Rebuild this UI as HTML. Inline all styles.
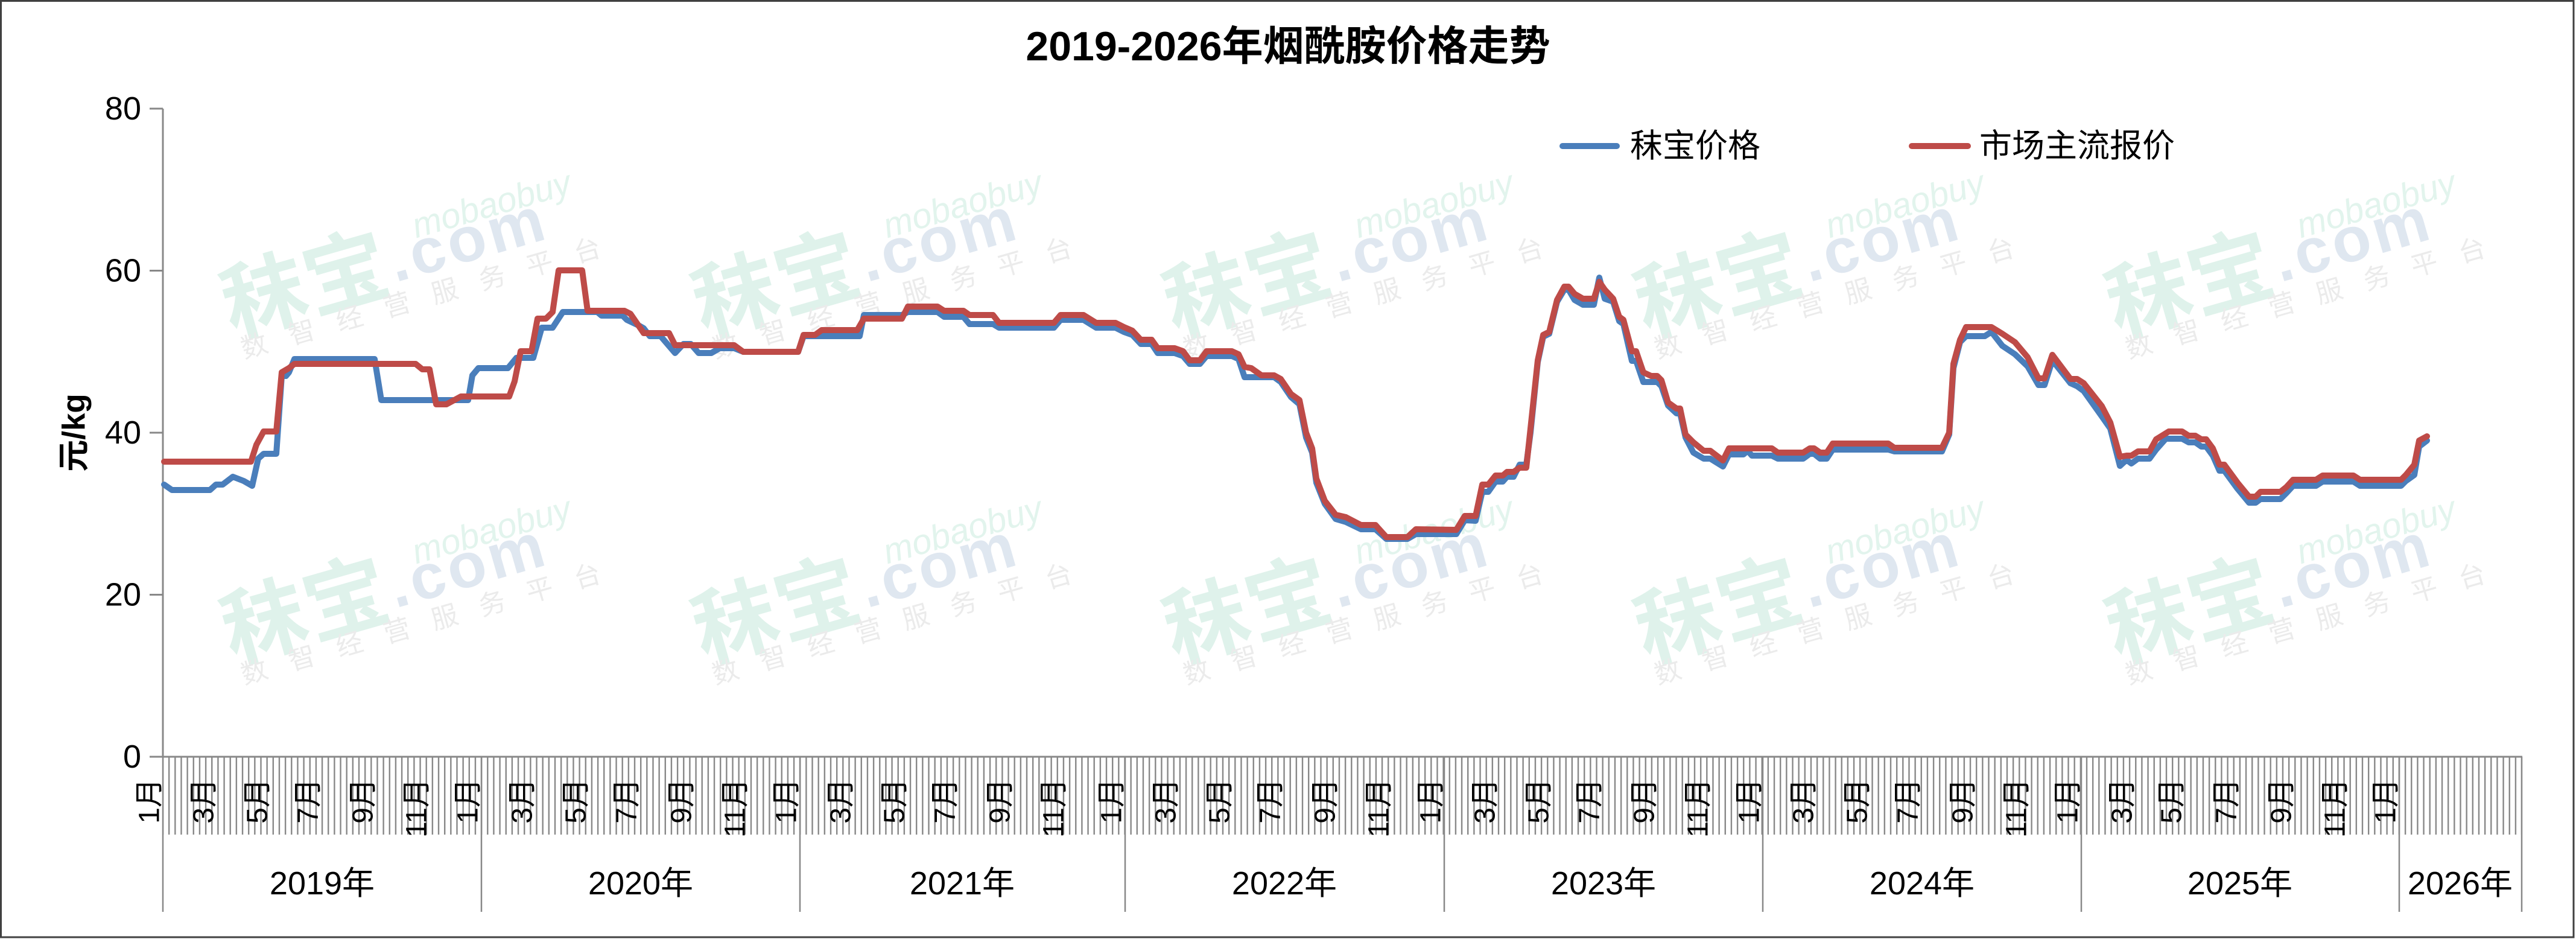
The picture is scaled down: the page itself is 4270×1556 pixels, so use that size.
<!DOCTYPE html>
<html><head><meta charset="utf-8"><style>
html,body{margin:0;padding:0;background:#fff;}
body{width:4270px;height:1556px;overflow:hidden;}
svg{display:block;font-family:"Liberation Sans","Noto Sans CJK SC",sans-serif;}
</style></head><body>
<svg width="4270" height="1556" viewBox="0 0 4270 1556" xmlns="http://www.w3.org/2000/svg">
<defs>
<pattern id="tk" patternUnits="userSpaceOnUse" x="268.8" y="0" width="10.156" height="1556">
<rect x="0" y="0" width="2.4" height="1556" fill="#888"/>
</pattern>
</defs>
<rect x="1.5" y="1.5" width="4264.5" height="1551.5" fill="#fff" stroke="#404040" stroke-width="3"/>

<!-- watermarks -->
<g font-family="Liberation Sans,Noto Sans CJK SC,sans-serif">
<g transform="translate(385,558) rotate(-16)"><text x="0" y="0" font-size="140" font-weight="bold" fill="#dff2eb">秣宝</text><text x="285" y="-12" font-size="105" font-weight="bold" fill="#dfe7f0" letter-spacing="6">.com</text><text x="338" y="-73" font-size="58" font-style="italic" fill="#e2f4ed">mobaobuy</text><text x="9" y="40" font-size="44" fill="#ebebeb" letter-spacing="38">数智经营服务平台</text></g>
<g transform="translate(1166,558) rotate(-16)"><text x="0" y="0" font-size="140" font-weight="bold" fill="#dff2eb">秣宝</text><text x="285" y="-12" font-size="105" font-weight="bold" fill="#dfe7f0" letter-spacing="6">.com</text><text x="338" y="-73" font-size="58" font-style="italic" fill="#e2f4ed">mobaobuy</text><text x="9" y="40" font-size="44" fill="#ebebeb" letter-spacing="38">数智经营服务平台</text></g>
<g transform="translate(1947,558) rotate(-16)"><text x="0" y="0" font-size="140" font-weight="bold" fill="#dff2eb">秣宝</text><text x="285" y="-12" font-size="105" font-weight="bold" fill="#dfe7f0" letter-spacing="6">.com</text><text x="338" y="-73" font-size="58" font-style="italic" fill="#e2f4ed">mobaobuy</text><text x="9" y="40" font-size="44" fill="#ebebeb" letter-spacing="38">数智经营服务平台</text></g>
<g transform="translate(2728,558) rotate(-16)"><text x="0" y="0" font-size="140" font-weight="bold" fill="#dff2eb">秣宝</text><text x="285" y="-12" font-size="105" font-weight="bold" fill="#dfe7f0" letter-spacing="6">.com</text><text x="338" y="-73" font-size="58" font-style="italic" fill="#e2f4ed">mobaobuy</text><text x="9" y="40" font-size="44" fill="#ebebeb" letter-spacing="38">数智经营服务平台</text></g>
<g transform="translate(3509,558) rotate(-16)"><text x="0" y="0" font-size="140" font-weight="bold" fill="#dff2eb">秣宝</text><text x="285" y="-12" font-size="105" font-weight="bold" fill="#dfe7f0" letter-spacing="6">.com</text><text x="338" y="-73" font-size="58" font-style="italic" fill="#e2f4ed">mobaobuy</text><text x="9" y="40" font-size="44" fill="#ebebeb" letter-spacing="38">数智经营服务平台</text></g>
<g transform="translate(385,1098) rotate(-16)"><text x="0" y="0" font-size="140" font-weight="bold" fill="#dff2eb">秣宝</text><text x="285" y="-12" font-size="105" font-weight="bold" fill="#dfe7f0" letter-spacing="6">.com</text><text x="338" y="-73" font-size="58" font-style="italic" fill="#e2f4ed">mobaobuy</text><text x="9" y="40" font-size="44" fill="#ebebeb" letter-spacing="38">数智经营服务平台</text></g>
<g transform="translate(1166,1098) rotate(-16)"><text x="0" y="0" font-size="140" font-weight="bold" fill="#dff2eb">秣宝</text><text x="285" y="-12" font-size="105" font-weight="bold" fill="#dfe7f0" letter-spacing="6">.com</text><text x="338" y="-73" font-size="58" font-style="italic" fill="#e2f4ed">mobaobuy</text><text x="9" y="40" font-size="44" fill="#ebebeb" letter-spacing="38">数智经营服务平台</text></g>
<g transform="translate(1947,1098) rotate(-16)"><text x="0" y="0" font-size="140" font-weight="bold" fill="#dff2eb">秣宝</text><text x="285" y="-12" font-size="105" font-weight="bold" fill="#dfe7f0" letter-spacing="6">.com</text><text x="338" y="-73" font-size="58" font-style="italic" fill="#e2f4ed">mobaobuy</text><text x="9" y="40" font-size="44" fill="#ebebeb" letter-spacing="38">数智经营服务平台</text></g>
<g transform="translate(2728,1098) rotate(-16)"><text x="0" y="0" font-size="140" font-weight="bold" fill="#dff2eb">秣宝</text><text x="285" y="-12" font-size="105" font-weight="bold" fill="#dfe7f0" letter-spacing="6">.com</text><text x="338" y="-73" font-size="58" font-style="italic" fill="#e2f4ed">mobaobuy</text><text x="9" y="40" font-size="44" fill="#ebebeb" letter-spacing="38">数智经营服务平台</text></g>
<g transform="translate(3509,1098) rotate(-16)"><text x="0" y="0" font-size="140" font-weight="bold" fill="#dff2eb">秣宝</text><text x="285" y="-12" font-size="105" font-weight="bold" fill="#dfe7f0" letter-spacing="6">.com</text><text x="338" y="-73" font-size="58" font-style="italic" fill="#e2f4ed">mobaobuy</text><text x="9" y="40" font-size="44" fill="#ebebeb" letter-spacing="38">数智经营服务平台</text></g>
</g>

<!-- title -->
<text x="2135" y="77" text-anchor="middle" dominant-baseline="central" font-size="68" font-weight="bold" fill="#000">2019-2026年烟酰胺价格走势</text>

<!-- legend -->
<line x1="2590" y1="242" x2="2680" y2="242" stroke="#4A7EBB" stroke-width="10" stroke-linecap="round"/>
<text x="2702" y="242" dominant-baseline="central" font-size="54" fill="#000">秣宝价格</text>
<line x1="3169" y1="242" x2="3262" y2="242" stroke="#BE4B48" stroke-width="10" stroke-linecap="round"/>
<text x="3281" y="242" dominant-baseline="central" font-size="54" fill="#000">市场主流报价</text>

<!-- y axis label -->
<text transform="translate(123,717) rotate(-90)" text-anchor="middle" dominant-baseline="central" font-size="53" font-weight="bold" fill="#000">元/kg</text>

<!-- y tick labels -->
<g font-size="54" fill="#000" text-anchor="end" dominant-baseline="central">
<text x="234" y="1254">0</text>
<text x="234" y="985.5">20</text>
<text x="234" y="717">40</text>
<text x="234" y="448.5">60</text>
<text x="234" y="180">80</text>
</g>
<g stroke="#888" stroke-width="3">
<line x1="248" y1="1254" x2="270" y2="1254"/>
<line x1="248" y1="985.5" x2="270" y2="985.5"/>
<line x1="248" y1="717" x2="270" y2="717"/>
<line x1="248" y1="448.5" x2="270" y2="448.5"/>
<line x1="248" y1="180" x2="270" y2="180"/>
</g>

<!-- category ticks -->
<rect x="270" y="1255" width="3911" height="128" fill="url(#tk)"/>
<g stroke="#888" stroke-width="2.5">
<line x1="270" y1="1254" x2="270" y2="1511"/>
<line x1="798" y1="1254" x2="798" y2="1511"/>
<line x1="1326" y1="1254" x2="1326" y2="1511"/>
<line x1="1865" y1="1254" x2="1865" y2="1511"/>
<line x1="2394" y1="1254" x2="2394" y2="1511"/>
<line x1="2922" y1="1254" x2="2922" y2="1511"/>
<line x1="3450" y1="1254" x2="3450" y2="1511"/>
<line x1="3977" y1="1254" x2="3977" y2="1511"/>
<line x1="4180" y1="1254" x2="4180" y2="1511"/>
</g>
<!-- axes -->
<line x1="270" y1="180" x2="270" y2="1255" stroke="#888" stroke-width="3"/>
<line x1="248" y1="1254" x2="4181" y2="1254" stroke="#888" stroke-width="3"/>

<!-- month labels -->
<g font-size="48" fill="#000" text-anchor="end" dominant-baseline="central">
<text transform="translate(248,1290) rotate(-90)">1月</text>
<text transform="translate(338,1290) rotate(-90)">3月</text>
<text transform="translate(427,1290) rotate(-90)">5月</text>
<text transform="translate(511,1290) rotate(-90)">7月</text>
<text transform="translate(602,1290) rotate(-90)">9月</text>
<text transform="translate(691,1290) rotate(-90)">11月</text>
<text transform="translate(776,1290) rotate(-90)">1月</text>
<text transform="translate(866,1290) rotate(-90)">3月</text>
<text transform="translate(955,1290) rotate(-90)">5月</text>
<text transform="translate(1039,1290) rotate(-90)">7月</text>
<text transform="translate(1130,1290) rotate(-90)">9月</text>
<text transform="translate(1219,1290) rotate(-90)">11月</text>
<text transform="translate(1304,1290) rotate(-90)">1月</text>
<text transform="translate(1394,1290) rotate(-90)">3月</text>
<text transform="translate(1483,1290) rotate(-90)">5月</text>
<text transform="translate(1567,1290) rotate(-90)">7月</text>
<text transform="translate(1658,1290) rotate(-90)">9月</text>
<text transform="translate(1747,1290) rotate(-90)">11月</text>
<text transform="translate(1843,1290) rotate(-90)">1月</text>
<text transform="translate(1933,1290) rotate(-90)">3月</text>
<text transform="translate(2022,1290) rotate(-90)">5月</text>
<text transform="translate(2106,1290) rotate(-90)">7月</text>
<text transform="translate(2197,1290) rotate(-90)">9月</text>
<text transform="translate(2286,1290) rotate(-90)">11月</text>
<text transform="translate(2372,1290) rotate(-90)">1月</text>
<text transform="translate(2462,1290) rotate(-90)">3月</text>
<text transform="translate(2551,1290) rotate(-90)">5月</text>
<text transform="translate(2635,1290) rotate(-90)">7月</text>
<text transform="translate(2726,1290) rotate(-90)">9月</text>
<text transform="translate(2815,1290) rotate(-90)">11月</text>
<text transform="translate(2900,1290) rotate(-90)">1月</text>
<text transform="translate(2990,1290) rotate(-90)">3月</text>
<text transform="translate(3079,1290) rotate(-90)">5月</text>
<text transform="translate(3163,1290) rotate(-90)">7月</text>
<text transform="translate(3254,1290) rotate(-90)">9月</text>
<text transform="translate(3343,1290) rotate(-90)">11月</text>
<text transform="translate(3428,1290) rotate(-90)">1月</text>
<text transform="translate(3518,1290) rotate(-90)">3月</text>
<text transform="translate(3600,1290) rotate(-90)">5月</text>
<text transform="translate(3691,1290) rotate(-90)">7月</text>
<text transform="translate(3782,1290) rotate(-90)">9月</text>
<text transform="translate(3871,1290) rotate(-90)">11月</text>
<text transform="translate(3955,1290) rotate(-90)">1月</text>
</g>

<!-- year labels -->
<g font-size="54" fill="#000" text-anchor="middle" dominant-baseline="central">
<text x="534" y="1464">2019年</text>
<text x="1062" y="1464">2020年</text>
<text x="1595" y="1464">2021年</text>
<text x="2129" y="1464">2022年</text>
<text x="2658" y="1464">2023年</text>
<text x="3186" y="1464">2024年</text>
<text x="3713" y="1464">2025年</text>
<text x="4078" y="1464">2026年</text>
</g>

<!-- series -->
<polyline fill="none" stroke="#4A7EBB" stroke-width="10" stroke-linejoin="round" stroke-linecap="round" points="272,803 285,812 348,812 358,803 369,803 386,790 404,797 418,805 428,760 437,752 458,752 467,623 474,623 479,617 488,595 621,595 632,663 776,663 783,622 793,610 842,610 856,593 884,593 898,543 916,543 933,517 990,517 997,523 1032,523 1039,530 1060,540 1067,544 1077,557 1095,557 1119,585 1133,570 1145,570 1158,585 1179,585 1193,577 1217,577 1232,583 1323,583 1332,557 1355,557 1425,557 1432,522 1495,522 1505,517 1554,517 1565,525 1597,525 1607,537 1646,537 1656,543 1747,543 1758,530 1796,530 1817,543 1849,543 1863,550 1877,555 1891,570 1909,570 1919,585 1947,585 1961,590 1972,603 1989,603 2000,590 2042,590 2053,595 2063,625 2112,625 2123,633 2140,658 2154,670 2165,725 2175,750 2182,800 2196,835 2214,860 2231,865 2256,877 2280,877 2298,893 2333,893 2347,885 2414,885 2428,862 2446,863 2457,815 2467,815 2479,798 2491,798 2498,790 2509,790 2519,770 2530,770 2537,717 2549,600 2558,558 2568,553 2581,500 2593,480 2600,480 2610,497 2624,505 2642,505 2651,460 2660,495 2674,500 2684,532 2691,537 2705,598 2712,598 2724,633 2747,633 2754,640 2765,672 2779,685 2785,685 2794,725 2807,750 2824,760 2835,760 2856,773 2866,753 2890,753 2897,747 2904,755 2937,755 2947,760 2989,760 3000,752 3007,752 3017,760 3028,760 3038,745 3130,745 3140,748 3219,748 3231,720 3238,610 3249,567 3259,557 3290,557 3301,550 3319,573 3340,587 3361,607 3379,638 3389,638 3402,597 3432,635 3443,640 3454,648 3484,690 3498,710 3514,772 3525,762 3533,768 3544,760 3563,760 3574,745 3590,727 3617,727 3628,733 3639,733 3649,740 3657,740 3668,755 3679,780 3687,780 3709,810 3728,833 3739,833 3747,827 3780,827 3790,817 3801,805 3839,805 3850,798 3901,798 3912,805 3980,805 3988,797 4002,787 4010,740 4023,730"/>
<polyline fill="none" stroke="#BE4B48" stroke-width="10" stroke-linejoin="round" stroke-linecap="round" points="272,765 416,765 425,737 437,715 458,715 467,617 479,610 488,603 689,603 700,612 712,612 723,670 740,670 764,657 844,657 853,632 863,582 881,582 891,528 905,528 916,517 926,448 965,448 974,515 1035,515 1045,520 1067,552 1109,552 1119,572 1217,572 1232,583 1323,583 1332,555 1351,555 1362,547 1421,547 1432,528 1495,528 1505,508 1554,508 1565,515 1597,515 1607,522 1646,522 1656,535 1747,535 1758,522 1796,522 1817,535 1849,535 1863,542 1877,548 1891,563 1909,563 1919,577 1947,577 1961,582 1972,597 1989,597 2000,582 2042,582 2053,587 2063,608 2074,610 2091,622 2112,622 2123,628 2140,653 2154,663 2165,717 2175,743 2182,793 2196,830 2214,853 2231,857 2256,870 2280,870 2298,890 2333,890 2347,877 2414,878 2428,855 2446,855 2457,803 2467,803 2479,788 2491,788 2498,782 2509,782 2519,775 2530,775 2537,710 2549,597 2558,555 2568,550 2581,497 2593,475 2600,475 2610,487 2624,495 2642,495 2651,467 2660,480 2674,495 2684,525 2691,530 2705,582 2712,582 2724,617 2737,623 2747,623 2754,630 2765,667 2779,677 2785,677 2794,720 2807,733 2824,747 2835,747 2856,763 2866,743 2937,743 2947,750 2989,750 3000,743 3007,743 3017,750 3028,750 3038,735 3130,735 3140,742 3219,742 3231,717 3238,603 3249,563 3259,542 3301,542 3319,553 3340,567 3361,592 3379,627 3389,627 3402,588 3432,628 3443,628 3454,635 3484,673 3498,700 3514,757 3525,755 3533,755 3544,748 3563,748 3574,728 3595,715 3617,715 3628,722 3639,722 3649,728 3657,728 3668,743 3679,770 3687,770 3709,800 3728,823 3739,823 3747,815 3780,815 3790,807 3801,795 3839,795 3850,788 3901,788 3912,795 3980,795 3988,787 4002,770 4010,730 4023,723"/>
</svg>
</body></html>
